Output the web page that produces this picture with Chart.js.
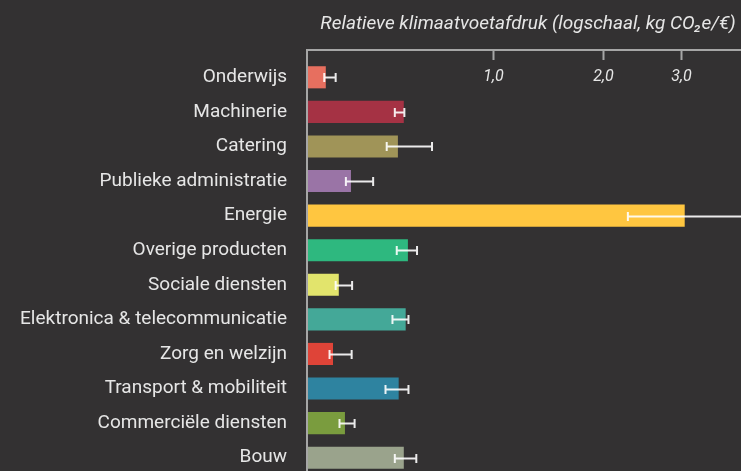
<!DOCTYPE html>
<html lang="nl">
<head>
<meta charset="utf-8">
<script src="https://cdn.jsdelivr.net/npm/chart.js@4/dist/chart.umd.min.js"></script>
<style>
  html, body { margin: 0; padding: 0; background: #333132; overflow: hidden; }
  canvas { display: block; }
</style>
</head>
<body>
<canvas id="grafiek" width="741" height="475"></canvas>
<script>
// Sectoren en relatieve voetafdruk (kg CO2e per euro)
const categorieen = [
  "Onderwijs", "Machinerie", "Catering", "Publieke administratie", "Energie",
  "Overige producten", "Sociale diensten", "Elektronica & telecommunicatie",
  "Zorg en welzijn", "Transport & mobiliteit", "Commerciële diensten", "Bouw",
];
const waarden = [0.076, 0.436, 0.405, 0.181, 3.06, 0.458, 0.129, 0.446, 0.105, 0.409, 0.155, 0.436];
// Onder- en bovengrens van de foutbalken
const foutLaag = [0.070, 0.389, 0.348, 0.159, 2.29, 0.399, 0.116, 0.377, 0.091, 0.342, 0.132, 0.389];
const foutHoog = [0.116, 0.439, 0.594, 0.282, 5.0, 0.508, 0.186, 0.461, 0.184, 0.461, 0.197, 0.504];
const kleuren = [
  "#e76f5f", "#a53244", "#a09458", "#9a74a6", "#ffc640", "#2eb87f",
  "#e2e46c", "#44a898", "#df4438", "#2e83a0", "#7a9c3e", "#9aa38c",
];
const tickWaarden = [1, 2, 3];
const asMax = 4;

// "Logschaal": log10(1 + x), zodat 0 links op de as ligt
const toLog = (v) => Math.log10(1 + v);

const tekstKleur = "#e6e6e6";
const asKleur = "#a6a6a6";

// Foutbalken, assen en titel tekenen we zelf bovenop de balken
const extraTekening = {
  id: "extraTekening",
  afterDatasetsDraw(chart) {
    const { ctx, chartArea, scales } = chart;
    const x = scales.x;
    const y = scales.y;
    const asY = 50;

    ctx.save();
    ctx.beginPath();
    ctx.rect(chartArea.left, 0, chartArea.right - chartArea.left, chart.height);
    ctx.clip();
    ctx.strokeStyle = "rgba(255,255,255,0.9)";
    ctx.lineWidth = 2;
    categorieen.forEach((_, i) => {
      const yc = Math.round(y.getPixelForValue(i)) + 0.5;
      const x1 = x.getPixelForValue(toLog(foutLaag[i]));
      const x2 = x.getPixelForValue(toLog(foutHoog[i]));
      ctx.beginPath();
      ctx.moveTo(x1, yc);
      ctx.lineTo(x2, yc);
      ctx.moveTo(x1, yc - 4.5);
      ctx.lineTo(x1, yc + 4.5);
      ctx.moveTo(x2, yc - 4.5);
      ctx.lineTo(x2, yc + 4.5);
      ctx.stroke();
    });
    ctx.restore();

    ctx.save();
    ctx.strokeStyle = asKleur;
    ctx.lineWidth = 2;
    ctx.beginPath();
    ctx.moveTo(chartArea.left + 1, asY);
    ctx.lineTo(chartArea.left + 1, chart.height);
    ctx.moveTo(chartArea.left, asY);
    ctx.lineTo(chartArea.right, asY);
    ctx.stroke();

    ctx.fillStyle = tekstKleur;
    ctx.font = "italic 16px Roboto";
    ctx.textAlign = "center";
    ctx.textBaseline = "middle";
    tickWaarden.forEach((t) => {
      const px = Math.round(x.getPixelForValue(toLog(t))) + 0.5;
      ctx.beginPath();
      ctx.moveTo(px, asY);
      ctx.lineTo(px, asY + 10);
      ctx.stroke();
      ctx.fillText(t.toFixed(1).replace(".", ","), px, asY + 27);
    });

    ctx.font = "italic 19px Roboto";
    ctx.fillText("Relatieve klimaatvoetafdruk (logschaal, kg CO₂e/€)", 528, 24);
    ctx.restore();
  },
};

new Chart(document.getElementById("grafiek"), {
  type: "bar",
  data: {
    labels: categorieen,
    datasets: [{
      data: waarden.map(toLog),
      backgroundColor: kleuren,
      barPercentage: 0.64,
      categoryPercentage: 1,
    }],
  },
  options: {
    indexAxis: "y",
    responsive: false,
    animation: false,
    layout: { padding: { top: 60, right: 0, bottom: 0, left: 0 } },
    plugins: { legend: { display: false }, tooltip: { enabled: false } },
    scales: {
      x: { type: "linear", min: 0, max: toLog(asMax), display: false },
      y: {
        grid: { display: false, drawTicks: false },
        border: { display: false },
        ticks: { color: tekstKleur, font: { family: "Roboto", size: 19 }, padding: 19 },
        afterFit(scale) {
          // vaste breedte voor de labels, geen extra ruimte boven/onder
          scale.width = 306;
          scale.paddingTop = 0;
          scale.paddingBottom = 0;
        },
      },
    },
  },
  plugins: [extraTekening],
});
</script>
</body>
</html>
